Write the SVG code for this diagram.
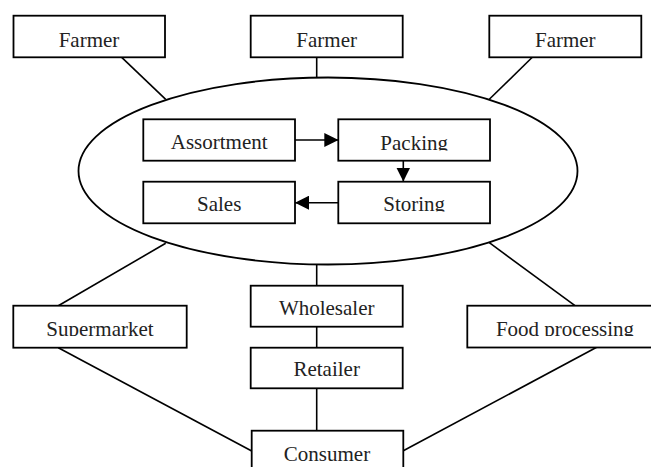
<svg xmlns="http://www.w3.org/2000/svg" width="651" height="467" viewBox="0 0 651 467">
<style>
.box{fill:#fff;stroke:#000;stroke-width:1.8}
.ell{fill:none;stroke:#000;stroke-width:1.8}
.ln{stroke:#000;stroke-width:1.6;fill:none}
text{font-family:"Liberation Serif","Times New Roman",serif;font-size:21px;fill:#222;text-anchor:middle}
</style>
<defs>
<marker id="ah" markerWidth="14" markerHeight="14" viewBox="0 0 14 14" refX="14" refY="7" orient="auto" markerUnits="userSpaceOnUse">
<path d="M0,0 L14,7 L0,14 Z" fill="#000"/>
</marker>
<clipPath id="cPacking"><rect x="338" y="119" width="152" height="31.5"/></clipPath>
<clipPath id="cStoring"><rect x="338" y="181" width="152" height="30.5"/></clipPath>
<clipPath id="cSuper"><rect x="13" y="305" width="174" height="31"/></clipPath>
<clipPath id="cFood"><rect x="467" y="305" width="184" height="31"/></clipPath>
</defs>
<rect width="651" height="467" fill="#fff"/>
<g id="connectors">
<line class="ln" x1="121.7" y1="57.3" x2="165.7" y2="99.3"/>
<line class="ln" x1="316.7" y1="57.3" x2="316.7" y2="77.8"/>
<line class="ln" x1="532.3" y1="57.3" x2="489.3" y2="99.3"/>
<line class="ln" x1="165.7" y1="243.3" x2="58.3" y2="305.7"/>
<line class="ln" x1="489.3" y1="242.7" x2="575" y2="305.7"/>
<line class="ln" x1="316.7" y1="264" x2="316.7" y2="285.7"/>
<line class="ln" x1="316.7" y1="326.7" x2="316.7" y2="347.7"/>
<line class="ln" x1="316.7" y1="388.3" x2="316.7" y2="430.7"/>
<line class="ln" x1="58.3" y1="347.7" x2="251.7" y2="451"/>
<line class="ln" x1="596.7" y1="347.3" x2="403.3" y2="450.7"/>
<line class="ln" x1="295" y1="140" x2="338.3" y2="140" marker-end="url(#ah)"/>
<line class="ln" x1="403.3" y1="160.7" x2="403.3" y2="181.5" marker-end="url(#ah)"/>
<line class="ln" x1="338.3" y1="202.7" x2="295" y2="202.7" marker-end="url(#ah)"/>
</g>
<g id="cluster">
<ellipse class="ell" cx="328" cy="171" rx="249.5" ry="93.5"/>
</g>
<g id="farmer1"><rect class="box" x="13.5" y="15.7" width="151.5" height="41.6"/><text x="89" y="46.7">Farmer</text></g>
<g id="farmer2"><rect class="box" x="250.7" y="15.7" width="152" height="41.6"/><text x="326.7" y="46.7">Farmer</text></g>
<g id="farmer3"><rect class="box" x="489.3" y="15.7" width="152" height="41.6"/><text x="565.3" y="46.7">Farmer</text></g>
<g id="assortment"><rect class="box" x="143.3" y="119.3" width="151.7" height="41.4"/><text x="219.2" y="149.3">Assortment</text></g>
<g id="packing"><rect class="box" x="338.3" y="119.3" width="151.7" height="41.4"/><text x="414.2" y="149.8" clip-path="url(#cPacking)">Packing</text></g>
<g id="sales"><rect class="box" x="143.3" y="181.7" width="151.7" height="41.6"/><text x="219.2" y="210.7">Sales</text></g>
<g id="storing"><rect class="box" x="338.3" y="181.7" width="151.7" height="41.6"/><text x="414.2" y="210.9" clip-path="url(#cStoring)">Storing</text></g>
<g id="supermarket"><rect class="box" x="13.3" y="305.7" width="173.4" height="42"/><text x="100" y="335.5" clip-path="url(#cSuper)">Supermarket</text></g>
<g id="wholesaler"><rect class="box" x="250.7" y="285.7" width="152" height="41"/><text x="326.7" y="315">Wholesaler</text></g>
<g id="retailer"><rect class="box" x="250.7" y="347.7" width="152" height="40.6"/><text x="326.7" y="376">Retailer</text></g>
<g id="foodprocessing"><rect class="box" x="467.3" y="305.7" width="200" height="41.8"/><text x="565" y="335.5" clip-path="url(#cFood)">Food processing</text></g>
<g id="consumer"><rect class="box" x="251.7" y="430.7" width="151.6" height="50"/><text x="327" y="461">Consumer</text></g>
</svg>
